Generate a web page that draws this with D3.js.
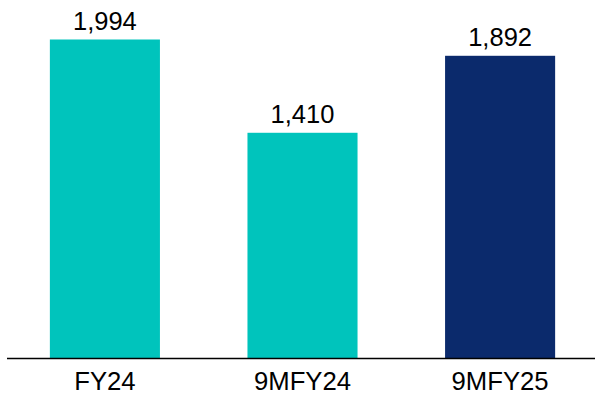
<!DOCTYPE html>
<html><head><meta charset="utf-8">
<script src="https://cdn.jsdelivr.net/npm/d3@7"></script>
<style>html,body{margin:0;padding:0;background:#fff;}svg{display:block;}</style>
</head><body>
<svg id="c" width="595" height="394"></svg>
<script>
const categories = ["FY24", "9MFY24", "9MFY25"];
const values = [1994, 1410, 1892];
const colors = ["#00C4BC", "#00C4BC", "#0B2A6C"];

const svg = d3.select("#c");
const x = d3.scaleBand().domain(categories).range([6, 599]).paddingInner(0.443).paddingOuter(0.222);
const y = d3.scaleLinear().domain([0, 1994]).range([358, 39.5]);

svg.selectAll("rect.bar").data(categories).join("rect")
  .attr("class", "bar")
  .attr("x", d => x(d)).attr("width", x.bandwidth())
  .attr("y", (d, i) => y(values[i])).attr("height", (d, i) => y(0) - y(values[i]))
  .attr("fill", (d, i) => colors[i]);

const axis = svg.append("g").attr("transform", `translate(0,${y(0)})`)
  .call(d3.axisBottom(x).tickSize(0).tickPadding(14));
axis.select(".domain").attr("d", "M7,0.5H595").attr("stroke", "#000").attr("stroke-width", 1.5);
axis.selectAll("text").attr("font-family", "Liberation Sans, Arial, sans-serif")
  .attr("font-size", 25.7).attr("fill", "#000");

svg.selectAll("text.val").data(categories).join("text")
  .attr("class", "val")
  .attr("x", d => x(d) + x.bandwidth() / 2)
  .attr("y", (d, i) => y(values[i]) - 10)
  .attr("text-anchor", "middle")
  .attr("font-family", "Liberation Sans, Arial, sans-serif")
  .attr("font-size", 25.5).attr("fill", "#000")
  .text((d, i) => d3.format(",")(values[i]));
</script>
</body></html>
